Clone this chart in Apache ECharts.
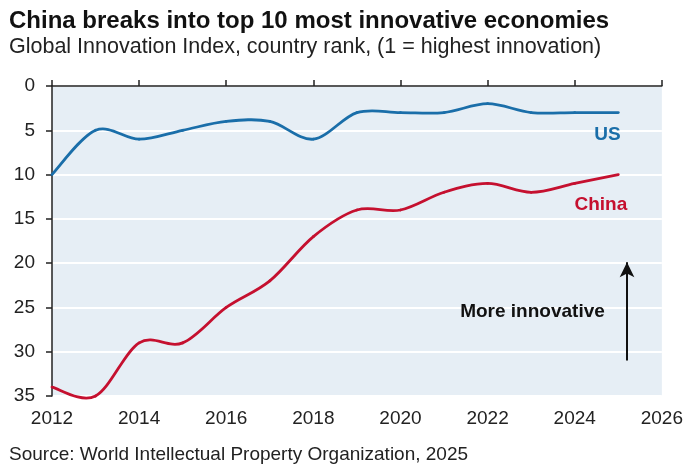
<!DOCTYPE html>
<html><head><meta charset="utf-8">
<script src="https://cdn.jsdelivr.net/npm/echarts@6/dist/echarts.min.js"></script>
<style>html,body{margin:0;padding:0;background:#fff}#c{width:686px;height:466px}</style>
</head><body><div id="c"></div>
<script>
const years = [2012,2013,2014,2015,2016,2017,2018,2019,2020,2021,2022,2023,2024,2025];
const usRank = [10,5,6,5,4,4,6,3,3,3,2,3,3,3];
const chinaRank = [34,35,29,29,25,22,17,14,14,12,11,12,11,10];
const xTicks = [2012,2014,2016,2018,2020,2022,2024,2026];
const yTicks = [0,5,10,15,20,25,30,35];
const FONT = 'Liberation Sans, Arial, sans-serif';
const US_COLOR = '#1a6ea9';
const CN_COLOR = '#c5102f';
const chart = echarts.init(document.getElementById('c'), null, {renderer:'canvas'});
const pair = (xs, ys) => xs.map((x,i)=>[x, ys[i]]);

// Catmull-Rom style smooth curve drawn segment by segment through the axis scales
function splineSeries(name, ys, color, extra) {
  return Object.assign({
    name, type:'custom', coordinateSystem:'cartesian2d', xAxisIndex:0, yAxisIndex:0,
    clip:false, silent:true, data: pair(years, ys),
    renderItem: (params, api) => {
      const i = params.dataIndex;
      if (i >= years.length - 1) return null;
      const P = k => { const j = Math.max(0, Math.min(years.length-1, k)); return api.coord([years[j], ys[j]]); };
      const p0 = P(i-1), p1 = P(i), p2 = P(i+1), p3 = P(i+2);
      const t = 1/6;
      return {type:'bezierCurve', shape:{
          x1:p1[0], y1:p1[1], x2:p2[0], y2:p2[1],
          cpx1:p1[0] + (p2[0]-p0[0])*t, cpy1:p1[1] + (p2[1]-p0[1])*t,
          cpx2:p2[0] - (p3[0]-p1[0])*t, cpy2:p2[1] - (p3[1]-p1[1])*t},
        style:{fill:null, stroke:color, lineWidth:2.8, lineCap:'round'}};
    }
  }, extra || {});
}

chart.setOption({
  animation:false,
  title:[
    {text:'China breaks into top 10 most innovative economies', left:9, top:9, padding:0,
     textStyle:{fontFamily:FONT, fontSize:24, fontWeight:'bold', color:'#111'}},
    {text:'Global Innovation Index, country rank, (1 = highest innovation)', left:9, top:36, padding:0,
     textStyle:{fontFamily:FONT, fontSize:21.5, fontWeight:'normal', color:'#222'}},
    {text:'Source: World Intellectual Property Organization, 2025', left:9, top:445, padding:0,
     textStyle:{fontFamily:FONT, fontSize:19, fontWeight:'normal', color:'#222'}}
  ],
  grid:{left:52, right:23, top:86, bottom:70, show:true, backgroundColor:'#e6eef5', borderWidth:0},
  xAxis:[
    {type:'value', position:'top', min:xTicks[0], max:xTicks[xTicks.length-1], interval:2,
     axisLine:{show:true, onZero:false, lineStyle:{color:'#222', width:1.5}},
     axisTick:{show:true, inside:false, length:6, lineStyle:{color:'#222', width:1.5}},
     axisLabel:{show:false}, splitLine:{show:false}},
    {type:'value', position:'bottom', min:xTicks[0], max:xTicks[xTicks.length-1], interval:2,
     axisLine:{show:false}, axisTick:{show:false}, splitLine:{show:false},
     axisLabel:{show:true, margin:13, fontFamily:FONT, fontSize:19, color:'#222', formatter: v => String(v)}}
  ],
  yAxis:{type:'value', inverse:true, min:yTicks[0], max:yTicks[yTicks.length-1], interval:5,
    axisLine:{show:true, onZero:false, lineStyle:{color:'#222', width:1.5}},
    axisTick:{show:true, inside:false, length:6, lineStyle:{color:'#222', width:1.5}},
    axisLabel:{fontFamily:FONT, fontSize:19, color:'#222', margin:17},
    splitLine:{show:true, lineStyle:{color:'#ffffff', width:2}}},
  series:[
    splineSeries('US', usRank, US_COLOR, {
      markPoint:{symbol:'circle', symbolSize:0, silent:true,
        data:[{coord:[2024.75,5.5], label:{show:true, position:'inside', formatter:'US', fontFamily:FONT, fontSize:19, fontWeight:'bold', color:US_COLOR}}]}}),
    splineSeries('China', chinaRank, CN_COLOR, {
      markPoint:{symbol:'circle', symbolSize:0, silent:true,
        data:[{coord:[2024.6,13.4], label:{show:true, position:'inside', formatter:'China', fontFamily:FONT, fontSize:19, fontWeight:'bold', color:CN_COLOR}},
              {coord:[2023.03,25.5], label:{show:true, position:'inside', formatter:'More innovative', fontFamily:FONT, fontSize:19, fontWeight:'bold', color:'#111'}}]},
      markLine:{silent:true, symbol:['none','arrow'], symbolSize:[11,15],
        lineStyle:{color:'#111', width:2, type:'solid'}, label:{show:false},
        data:[[{coord:[2025.2,31.0]},{coord:[2025.2,19.9]}]]}})
  ]
});
</script></body></html>
